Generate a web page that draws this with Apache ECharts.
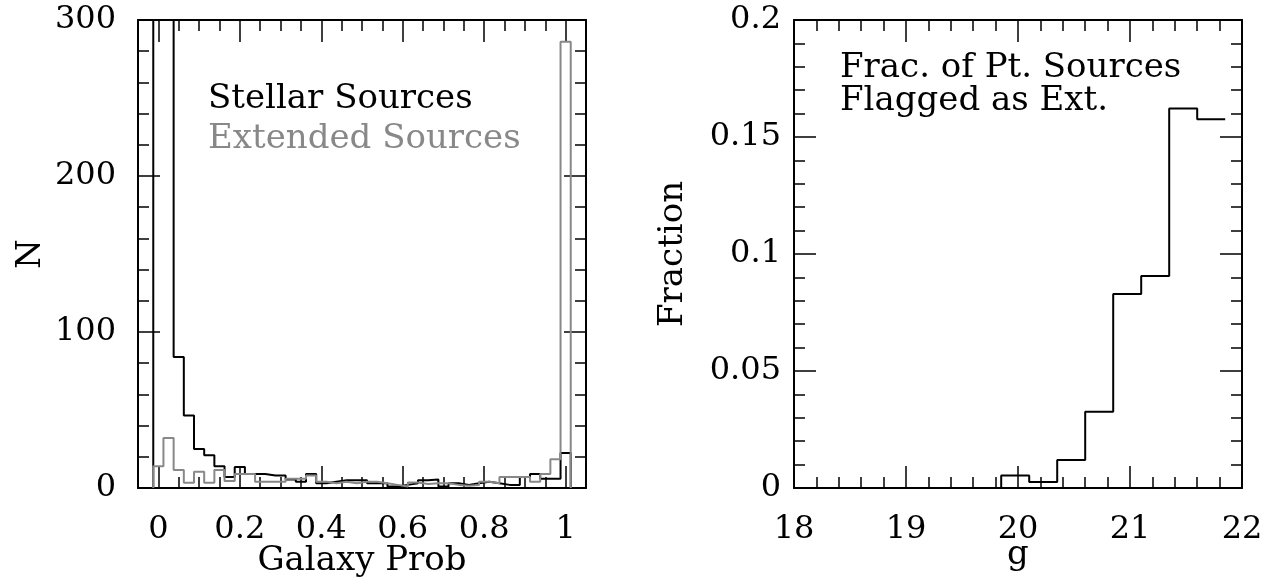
<!DOCTYPE html>
<html><head><meta charset="utf-8">
<script src="https://cdn.jsdelivr.net/npm/echarts@6/dist/echarts.min.js"></script>
<style>html,body{margin:0;padding:0;background:#fff}#c{width:1273px;height:578px}</style>
</head><body><div id="c"></div>
<script>
// Left panel: histograms of galaxy probability, bins of width 0.025 centred on multiples of 0.025
const probBinStart = -0.0125;
const probBinWidth = 0.025;
const stellarCounts = [500, 500, 84, 46.5, 25, 21, 14, 7, 13.5, 9, 9, 8, 8, 5.5, 4, 9, 3, 4, 5, 5,
  5, 3, 3, 1, 2, 3, 5, 5.5, 1, 3, 2, 3, 4, 3, 2, 2, 7, 9, 6, 6, 22.5];
const extendedCounts = [14, 32, 11.5, 3.4, 10.4, 3.4, 11.5, 4.5, 9, 9, 4, 4, 4, 6, 6, 8, 4, 3, 4, 3,
  4, 4, 3, 2, 1, 3.5, 2.5, 3, 3, 2, 1.5, 2, 4, 3, 7, 7, 7, 4, 9, 18.4, 286];
const probTicks = [0, 0.2, 0.4, 0.6, 0.8, 1];
// Right panel: fraction of point sources flagged as extended, bins of 0.25 mag
const magBinStart = 19.85;
const magBinWidth = 0.25;
const flaggedFraction = [0.0053, 0.0026, 0.012, 0.0326, 0.0829, 0.0906, 0.1622, 0.1576];

const F = '"DejaVu Serif", serif';
const FS = 32;
const NS = 34;

function steps(start, width, vals, closeEnd) {
  const pts = [[start, 0]];
  vals.forEach((v, i) => { pts.push([start + i * width, v]); pts.push([start + (i + 1) * width, v]); });
  if (closeEnd) pts.push([start + vals.length * width, 0]);
  return pts;
}

const line = { onZero: false, lineStyle: { color: '#000', width: 2 } };
const noLine = { show: false, onZero: false };
const tk = (len, extra) => Object.assign({ show: true, inside: true, length: len, lineStyle: { color: '#000', width: 1.5 } }, extra || {});
const mtk = (n) => ({ show: true, splitNumber: n, length: 11, lineStyle: { color: '#000', width: 1.5 } });
const lab = (extra) => Object.assign({ fontFamily: F, fontSize: FS, color: '#000' }, extra || {});
const nameStyle = { fontFamily: F, fontSize: NS, color: '#000' };
const noLab = { show: false };
const noSplit = { show: false };

const chart = echarts.init(document.getElementById('c'));
chart.setOption({
  animation: false,
  backgroundColor: '#fff',
  grid: [
    { left: 138, top: 20, width: 448, height: 468, containLabel: false, outerBoundsMode: 'none' },
    { left: 794, top: 20, width: 448, height: 468, containLabel: false, outerBoundsMode: 'none' }
  ],
  xAxis: [
    { gridIndex: 0, type: 'value', position: 'bottom', min: -0.05, max: 1.05, interval: 0.05,
      axisLine: line, axisTick: tk(11), axisLabel: noLab, splitLine: noSplit },
    { gridIndex: 0, type: 'value', position: 'bottom', min: -0.05, max: 1.05,
      axisLine: noLine, axisTick: tk(22, { customValues: probTicks }),
      axisLabel: lab({ customValues: probTicks, margin: 26 }), splitLine: noSplit,
      name: 'Galaxy Prob', nameLocation: 'middle', nameGap: 56, nameMoveOverlap: false, nameTextStyle: nameStyle },
    { gridIndex: 0, type: 'value', position: 'top', min: -0.05, max: 1.05, interval: 0.05,
      axisLine: line, axisTick: tk(11), axisLabel: noLab, splitLine: noSplit },
    { gridIndex: 0, type: 'value', position: 'top', min: -0.05, max: 1.05,
      axisLine: noLine, axisTick: tk(22, { customValues: probTicks }), axisLabel: noLab, splitLine: noSplit },
    { gridIndex: 1, type: 'value', position: 'bottom', min: 18, max: 22, interval: 1,
      axisLine: line, axisTick: tk(22), minorTick: mtk(5), axisLabel: lab({ margin: 26 }), splitLine: noSplit, minorSplitLine: noSplit,
      name: 'g', nameLocation: 'middle', nameGap: 50, nameMoveOverlap: false, nameTextStyle: nameStyle },
    { gridIndex: 1, type: 'value', position: 'top', min: 18, max: 22, interval: 1,
      axisLine: line, axisTick: tk(22), minorTick: mtk(5), axisLabel: noLab, splitLine: noSplit, minorSplitLine: noSplit }
  ],
  yAxis: [
    { gridIndex: 0, type: 'value', position: 'left', min: 0, max: 300, interval: 100,
      axisLine: line, axisTick: tk(22), minorTick: mtk(5), axisLabel: lab({ margin: 22 }), splitLine: noSplit, minorSplitLine: noSplit,
      name: 'N', nameLocation: 'middle', nameGap: 90, nameRotate: 90, nameMoveOverlap: false, nameTextStyle: nameStyle },
    { gridIndex: 0, type: 'value', position: 'right', min: 0, max: 300, interval: 100,
      axisLine: line, axisTick: tk(22), minorTick: mtk(5), axisLabel: noLab, splitLine: noSplit, minorSplitLine: noSplit },
    { gridIndex: 1, type: 'value', position: 'left', min: 0, max: 0.2, interval: 0.05,
      axisLine: line, axisTick: tk(22), minorTick: mtk(5), axisLabel: lab({ margin: 13 }), splitLine: noSplit, minorSplitLine: noSplit,
      name: 'Fraction', nameLocation: 'middle', nameGap: 104, nameRotate: 90, nameMoveOverlap: false, nameTextStyle: nameStyle },
    { gridIndex: 1, type: 'value', position: 'right', min: 0, max: 0.2, interval: 0.05,
      axisLine: line, axisTick: tk(22), minorTick: mtk(5), axisLabel: noLab, splitLine: noSplit, minorSplitLine: noSplit }
  ],
  series: [
    { name: 'Stellar Sources', type: 'line', xAxisIndex: 0, yAxisIndex: 0, symbol: 'none', clip: true,
      data: steps(probBinStart, probBinWidth, stellarCounts, true), lineStyle: { color: '#000', width: 2 } },
    { name: 'Extended Sources', type: 'line', xAxisIndex: 0, yAxisIndex: 0, symbol: 'none', clip: true,
      data: steps(probBinStart, probBinWidth, extendedCounts, true), lineStyle: { color: '#888', width: 2 } },
    { name: 'Fraction', type: 'line', xAxisIndex: 4, yAxisIndex: 2, symbol: 'none', clip: true,
      data: steps(magBinStart, magBinWidth, flaggedFraction, false), lineStyle: { color: '#000', width: 2 } }
  ],
  graphic: [
    { type: 'text', left: 208, top: 82, style: { text: 'Stellar Sources', font: NS + 'px ' + F, fill: '#000' } },
    { type: 'text', left: 208, top: 122, style: { text: 'Extended Sources', font: NS + 'px ' + F, fill: '#888' } },
    { type: 'text', left: 840, top: 51, style: { text: 'Frac. of Pt. Sources', font: NS + 'px ' + F, fill: '#000' } },
    { type: 'text', left: 840, top: 84, style: { text: 'Flagged as Ext.', font: NS + 'px ' + F, fill: '#000' } }
  ]
});
</script>
</body></html>
